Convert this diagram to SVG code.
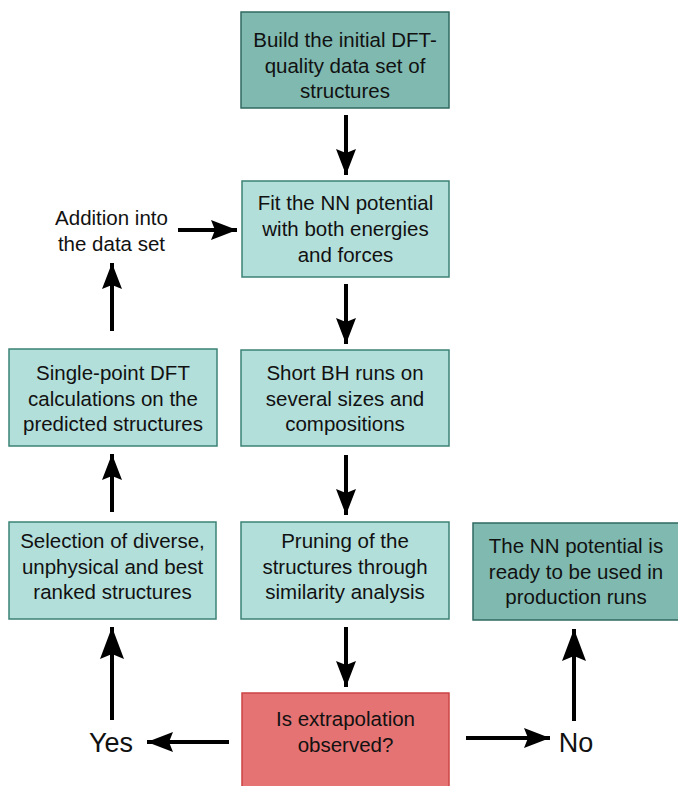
<svg xmlns="http://www.w3.org/2000/svg" width="678" height="786" viewBox="0 0 678 786">
<style>
  .dark { fill: #80b9b0; stroke: #2f6a60; stroke-width: 1.5; }
  .light { fill: #b3dfdb; stroke: #3b8276; stroke-width: 1.5; }
  .red { fill: #e57373; stroke: #cc4444; stroke-width: 1.5; }
  text { font-family: "Liberation Sans", Arial, sans-serif; font-size: 20.5px; fill: #111; text-anchor: middle; }
  .big { font-size: 27px; }
  .conn line { stroke: #000; stroke-width: 4; fill: none; }
</style>
<defs>
  <marker id="ah" markerUnits="userSpaceOnUse" viewBox="0 -11 28 22" refX="26" refY="0" markerWidth="28" markerHeight="22" orient="auto">
    <path d="M0,-10 L26,0 L0,10 L4,0 Z" fill="#000"/>
  </marker>
  <marker id="ahL" markerUnits="userSpaceOnUse" viewBox="0 -13 34 26" refX="32" refY="0" markerWidth="34" markerHeight="26" orient="auto">
    <path d="M0,-12 L32,0 L0,12 L5,0 Z" fill="#000"/>
  </marker>
</defs>

<g id="build">
  <rect class="dark" x="241" y="12" width="208" height="96"/>
  <text x="345" y="47">Build the initial DFT-</text>
  <text x="345" y="73">quality data set of</text>
  <text x="345" y="98">structures</text>
</g>
<g id="fit">
  <rect class="light" x="242" y="181" width="207" height="96"/>
  <text x="345.5" y="210">Fit the NN potential</text>
  <text x="345.5" y="236">with both energies</text>
  <text x="345.5" y="262">and forces</text>
</g>
<g id="addition">
  <text x="111.5" y="225">Addition into</text>
  <text x="111.5" y="251">the data set</text>
</g>
<g id="singlepoint">
  <rect class="light" x="9" y="349" width="208" height="97"/>
  <text x="113" y="380">Single-point DFT</text>
  <text x="113" y="405.5">calculations on the</text>
  <text x="113" y="431">predicted structures</text>
</g>
<g id="shortbh">
  <rect class="light" x="241" y="350" width="208" height="96"/>
  <text x="345" y="380">Short BH runs on</text>
  <text x="345" y="405.5">several sizes and</text>
  <text x="345" y="431">compositions</text>
</g>
<g id="selection">
  <rect class="light" x="9" y="522" width="207" height="97"/>
  <text x="112.5" y="548">Selection of diverse,</text>
  <text x="112.5" y="574">unphysical and best</text>
  <text x="112.5" y="599">ranked structures</text>
</g>
<g id="pruning">
  <rect class="light" x="241" y="522" width="208" height="97"/>
  <text x="345" y="548">Pruning of the</text>
  <text x="345" y="574">structures through</text>
  <text x="345" y="599">similarity analysis</text>
</g>
<g id="ready">
  <rect class="dark" x="473" y="523" width="210" height="97"/>
  <text x="576" y="553">The NN potential is</text>
  <text x="576" y="579">ready to be used in</text>
  <text x="576" y="604">production runs</text>
</g>
<g id="extrapolation">
  <rect class="red" x="242" y="693" width="207" height="100"/>
  <text x="345.5" y="726">Is extrapolation</text>
  <text x="345.5" y="752">observed?</text>
</g>
<g id="yes">
  <text class="big" x="111" y="752">Yes</text>
</g>
<g id="no">
  <text class="big" x="576" y="752">No</text>
</g>

<g id="connectors" class="conn">
  <line x1="346" y1="115" x2="346" y2="175" marker-end="url(#ah)"/>
  <line x1="346" y1="284" x2="346" y2="344" marker-end="url(#ah)"/>
  <line x1="346" y1="455" x2="346" y2="515" marker-end="url(#ah)"/>
  <line x1="346" y1="627" x2="346" y2="687" marker-end="url(#ah)"/>
  <line x1="229" y1="742" x2="147" y2="742" marker-end="url(#ah)"/>
  <line x1="466" y1="738" x2="550" y2="738" marker-end="url(#ah)"/>
  <line x1="574" y1="721" x2="574" y2="629" marker-end="url(#ahL)"/>
  <line x1="112" y1="720" x2="112" y2="627" marker-end="url(#ahL)"/>
  <line x1="112" y1="512" x2="112" y2="454" marker-end="url(#ah)"/>
  <line x1="112" y1="331" x2="112" y2="263" marker-end="url(#ah)"/>
  <line x1="178" y1="230" x2="237" y2="230" marker-end="url(#ah)"/>
</g>
</svg>
